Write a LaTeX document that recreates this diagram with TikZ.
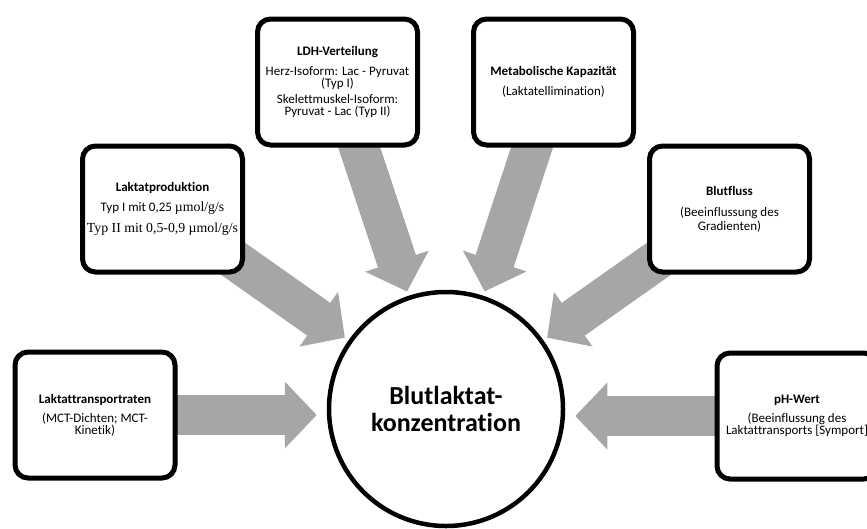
\documentclass[tikz,border=0pt]{standalone}
\usepackage{fontspec}
\newfontfamily\calibri[Ligatures=NoCommon]{Carlito}
\newfontfamily\bookserif{Liberation Serif}
\usetikzlibrary{arrows.meta,calc,backgrounds}
\definecolor{arrowgray}{RGB}{166,166,166}
\begin{document}
\begin{tikzpicture}[x=1pt,y=-1pt,
  factorbox/.style={draw=black, line width=5pt, rounded corners=13pt, fill=white,
    minimum width=160pt, minimum height=126pt, inner sep=0pt, align=center,
    font=\calibri\fontsize{13}{12}\selectfont},
  centre/.style={circle, draw=black, line width=4.5pt, fill=white, minimum size=234pt,
    inner sep=0pt, align=center, font=\calibri\bfseries\fontsize{26}{27}\selectfont},
  bigarrow/.style={draw=arrowgray, line width=40pt, line cap=butt,
    -{Triangle[length=32pt 0 0,width=65pt 0 0]}}
]
\useasboundingbox (0,0) rectangle (867,528);
\clip (0,0) rectangle (867,528);

% central quantity
\node[centre] (circ) at (446,409) {Blutlaktat-\\konzentration};

% influencing factors
\node[factorbox] (trans) at (95,415)
  {\textbf{Laktattransportraten}\\[7pt](MCT-Dichten; MCT-\\Kinetik)};
\node[factorbox] (prod) at (162.5,209)
  {\textbf{Laktatproduktion}\\[8pt]Typ I mit 0,25 {\bookserif\fontsize{13.8}{12}\selectfont µmol/g/s}\\[8pt]{\bookserif\fontsize{13.8}{12}\selectfont Typ II mit 0,5-0,9 µmol/g/s}};
\node[factorbox] (ldh) at (337.5,82)
  {\textbf{LDH-Verteilung}\\[8pt]Herz-Isoform: Lac - Pyruvat\\(Typ I)\\[4pt]Skelettmuskel-Isoform:\\Pyruvat - Lac (Typ II)};
\node[factorbox] (metab) at (553.5,82)
  {\textbf{Metabolische Kapazität}\\[8pt](Laktatellimination)};
\node[factorbox] (blut) at (729.5,209)
  {\textbf{Blutfluss}\\[9pt](Beeinflussung des\\[2pt]Gradienten)};
\node[factorbox] (ph) at (797,416)
  {\textbf{pH-Wert}\\[7pt](Beeinflussung des\\Laktattransports [Symport]};

% broad grey arrows pointing at the centre
\begin{pgfonlayer}{background}
  \draw[bigarrow, shorten >=10pt] (trans.center) -- (trans.center -| circ.west);
  \draw[bigarrow, shorten >=10pt] (ph.center) -- (ph.center -| circ.east);
  \draw[bigarrow, shorten >=4.5pt] (prod.center) -- (circ);
  \draw[bigarrow, shorten >=4.5pt] (ldh.center) -- (circ);
  \draw[bigarrow, shorten >=4.5pt] (metab.center) -- (circ);
  \draw[bigarrow, shorten >=4.5pt] (blut.center) -- (circ);
\end{pgfonlayer}
\end{tikzpicture}
\end{document}
